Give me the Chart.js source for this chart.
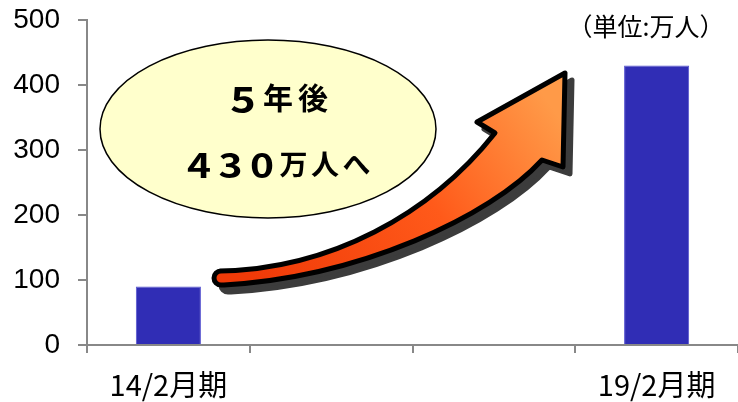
<!DOCTYPE html>
<html>
<head>
<meta charset="utf-8">
<script src="https://cdn.jsdelivr.net/npm/chart.js@4"></script>
<style>
  html, body { margin: 0; padding: 0; background: #fff; }
  #wrap { width: 738px; height: 402px; }
</style>
</head>
<body>
<div id="wrap"><canvas id="c" width="738" height="402"></canvas></div>
<script>
// 期ごとの人数（万人）
const periods = ['14/2月期', '', '', '19/2月期'];
const users = [90, null, null, 430];
const yMin = 0;
const yMax = 500;
const yStep = 100;
const unitLabel = '（単位:万人）';
const bubbleLine1 = '5年後';
const bubbleLine2 = '430万人へ';

// 1文字ずつ等間隔で描く（数字は大きめ・横長に）
function drawSpaced(ctx, text, x0, pitch, y, size) {
  [...text].forEach((ch, i) => {
    const x = x0 + i * pitch;
    if (/[0-9]/.test(ch)) {
      ctx.save();
      ctx.font = 'bold ' + Math.round(size * 1.2) + 'px "Noto Sans CJK JP"';
      ctx.translate(x, y + 1);
      ctx.scale(1.2, 1);
      ctx.fillText(ch, 0, 0);
      ctx.restore();
    } else {
      ctx.font = 'bold ' + size + 'px "Noto Sans CJK JP"';
      ctx.fillText(ch, x, y);
    }
  });
}

// 吹き出し・矢印・単位表示
const decor = {
  id: 'decor',
  afterDraw(chart) {
    const ctx = chart.ctx;
    ctx.save();

    // 単位
    ctx.fillStyle = '#000';
    ctx.font = '25px "Noto Sans CJK JP"';
    ctx.textAlign = 'center';
    ctx.textBaseline = 'middle';
    ctx.fillText(unitLabel, 646, 26);

    // 楕円
    ctx.beginPath();
    ctx.ellipse(268, 129, 168, 89, 0, 0, Math.PI * 2);
    ctx.fillStyle = '#ffffcc';
    ctx.fill();
    ctx.lineWidth = 1.5;
    ctx.strokeStyle = '#000';
    ctx.stroke();

    ctx.fillStyle = '#000';
    drawSpaced(ctx, bubbleLine1, 243, 35, 98, 30);
    drawSpaced(ctx, bubbleLine2, 199, 31.5, 164, 28);

    // 矢印
    const arrow = (dx, dy) => {
      ctx.beginPath();
      ctx.moveTo(220 + dx, 271 + dy);
      ctx.bezierCurveTo(330 + dx, 269 + dy, 430 + dx, 215 + dy, 495 + dx, 133 + dy);
      ctx.lineTo(477 + dx, 122 + dy);
      ctx.lineTo(565 + dx, 73 + dy);
      ctx.lineTo(563 + dx, 167 + dy);
      ctx.lineTo(542 + dx, 160 + dy);
      ctx.bezierCurveTo(490 + dx, 217 + dy, 360 + dx, 277 + dy, 224 + dx, 285 + dy);
      ctx.arc(221 + dx, 278 + dy, 7, Math.PI / 2, Math.PI * 1.5);
      ctx.closePath();
    };
    ctx.lineJoin = 'round';
    ctx.lineWidth = 5;

    arrow(7, 7);
    ctx.fillStyle = '#3c3c3c';
    ctx.strokeStyle = '#3c3c3c';
    ctx.fill();
    ctx.stroke();

    arrow(0, 0);
    const g = ctx.createLinearGradient(260, 285, 540, 90);
    g.addColorStop(0, '#f03a08');
    g.addColorStop(0.55, '#ff5a1a');
    g.addColorStop(1, '#ff9a48');
    ctx.fillStyle = g;
    ctx.fill();
    ctx.strokeStyle = '#000';
    ctx.stroke();

    ctx.restore();
  }
};

new Chart(document.getElementById('c'), {
  type: 'bar',
  data: {
    labels: periods,
    datasets: [{
      data: users,
      backgroundColor: '#302db5',
      borderColor: '#5654cf',
      borderWidth: 1,
      barPercentage: 0.5,
      categoryPercentage: 0.8
    }]
  },
  options: {
    responsive: false,
    animation: false,
    layout: { padding: { top: 20, right: 0, left: 0, bottom: 0 } },
    plugins: {
      legend: { display: false },
      tooltip: { enabled: false }
    },
    scales: {
      x: {
        grid: {
          display: true,
          drawOnChartArea: false,
          drawTicks: true,
          tickLength: 8,
          color: '#888',
          lineWidth: 2
        },
        border: { color: '#888', width: 2 },
        ticks: {
          autoSkip: false,
          maxRotation: 0,
          padding: 15,
          color: '#000',
          font: { family: '"Noto Sans CJK JP"', size: 29 }
        },
        afterFit(s) { s.height = 57; }
      },
      y: {
        min: yMin,
        max: yMax,
        grid: {
          display: true,
          drawOnChartArea: false,
          drawTicks: true,
          tickLength: 9,
          color: '#888',
          lineWidth: 2
        },
        border: { color: '#888', width: 2 },
        ticks: {
          stepSize: yStep,
          padding: 18,
          color: '#000',
          font: { family: '"Liberation Sans", Arial, sans-serif', size: 28 }
        },
        afterFit(s) {
          s.width = 87;
          s.paddingTop = 0;
          s.paddingBottom = 0;
        }
      }
    }
  },
  plugins: [decor]
});
</script>
</body>
</html>
